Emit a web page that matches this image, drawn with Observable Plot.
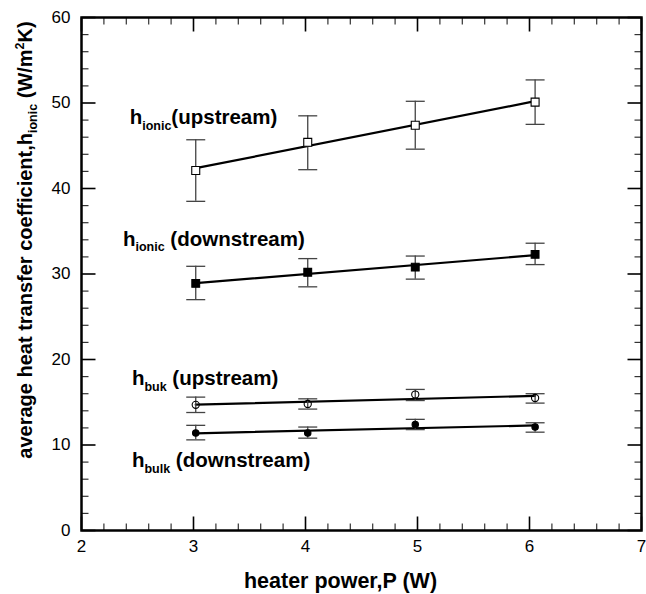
<!DOCTYPE html>
<html><head><meta charset="utf-8">
<script src="https://cdn.jsdelivr.net/npm/d3@7"></script>
<script src="https://cdn.jsdelivr.net/npm/@observablehq/plot@0.6"></script>
<style>
body{margin:0;background:#fff;}
#chart{width:646px;height:594px;}
text{white-space:pre;}
</style>
</head><body><div id="chart"></div>
<script>
// ---- data ----
const power = [3.02, 4.02, 4.98, 6.05];

const ionicUp     = [42.1, 45.4, 47.4, 50.1];
const ionicUpLo   = [38.5, 42.2, 44.6, 47.5];
const ionicUpHi   = [45.7, 48.5, 50.2, 52.7];

const ionicDown   = [28.9, 30.2, 30.8, 32.3];
const ionicDownLo = [27.0, 28.5, 29.4, 31.1];
const ionicDownHi = [30.9, 31.8, 32.1, 33.6];

const bulkUp      = [14.7, 14.8, 15.9, 15.5];
const bulkUpLo    = [13.8, 14.2, 15.2, 14.9];
const bulkUpHi    = [15.6, 15.4, 16.5, 16.0];

const bulkDown    = [11.4, 11.4, 12.4, 12.1];
const bulkDownLo  = [10.6, 10.8, 11.8, 11.5];
const bulkDownHi  = [12.3, 12.1, 13.0, 12.6];

const seriesKeys = ["ionicUp", "ionicDown", "bulkUp", "bulkDown"];
const labelMain  = ["h", "h", "h", "h"];
const labelSub   = ["ionic", "ionic", "buk", "bulk"];
const labelRest  = ["(upstream)", " (downstream)", " (upstream)", " (downstream)"];
const labelX     = [2.43, 2.37, 2.45, 2.45];
const labelY     = [47.5, 33.3, 17.0, 7.4];

const xTickLabels = [2, 3, 4, 5, 6, 7];
const yTickLabels = [0, 10, 20, 30, 40, 50, 60];
const xTitle = "heater power,P (W)";
const yTitleParts = [
  ["average heat transfer coefficient,h", "n"],
  ["ionic", "sub"],
  [" (W/m", "n"],
  ["2", "sup"],
  ["K)", "n"]
];

// ---- build table ----
const seriesY  = {ionicUp, ionicDown, bulkUp, bulkDown};
const seriesLo = {ionicUp: ionicUpLo, ionicDown: ionicDownLo, bulkUp: bulkUpLo, bulkDown: bulkDownLo};
const seriesHi = {ionicUp: ionicUpHi, ionicDown: ionicDownHi, bulkUp: bulkUpHi, bulkDown: bulkDownHi};
const rows = [];
seriesKeys.forEach(k => power.forEach((p, i) => rows.push({series: k, x: p, y: seriesY[k][i], lo: seriesLo[k][i], hi: seriesHi[k][i]})));
const labels = seriesKeys.map((k, i) => ({main: labelMain[i], sub: labelSub[i], rest: labelRest[i], x: labelX[i], y: labelY[i]}));
const yTitle = yTitleParts.map(p => p[0]).join("");

const xMinor = d3.ticks(2, 7, 25).filter(v => !xTickLabels.includes(v));
const yMinor = d3.ticks(0, 60, 30).filter(v => !yTickLabels.includes(v));

// ---- custom symbols (pixel-length strokes) ----
const len = size => Math.sqrt(size / Math.PI);
const tickUp    = {draw(c, s){ const l = len(s); c.moveTo(0, 0); c.lineTo(0, -l); }};
const tickDown  = {draw(c, s){ const l = len(s); c.moveTo(0, 0); c.lineTo(0, l); }};
const tickRight = {draw(c, s){ const l = len(s); c.moveTo(0, 0); c.lineTo(l, 0); }};
const tickLeft  = {draw(c, s){ const l = len(s); c.moveTo(0, 0); c.lineTo(-l, 0); }};
const capBar    = {draw(c, s){ const l = len(s); c.moveTo(-l, 0); c.lineTo(l, 0); }};

const markerStyle = {
  ionicUp:   {symbol: "square", fill: "white", r: 4.5},
  ionicDown: {symbol: "square", fill: "black", r: 4.4},
  bulkUp:    {symbol: "circle", fill: "none",  r: 3.6},
  bulkDown:  {symbol: "circle", fill: "black", r: 3.2}
};

const tickMarks = (vals, long) => {
  const r = long ? 14 : 7, sw = long ? 1.6 : 1.2, st = long ? "black" : "#333";
  return [
    Plot.dot(vals, {x: d => d, y: 0,  symbol: tickUp,   r, stroke: st, strokeWidth: sw, fill: "none"}),
    Plot.dot(vals, {x: d => d, y: 60, symbol: tickDown, r, stroke: st, strokeWidth: sw, fill: "none"})
  ];
};
const tickMarksY = (vals, long) => {
  const r = long ? 14 : 7, sw = long ? 1.6 : 1.2, st = long ? "black" : "#333";
  return [
    Plot.dot(vals, {y: d => d, x: 2, symbol: tickRight, r, stroke: st, strokeWidth: sw, fill: "none"}),
    Plot.dot(vals, {y: d => d, x: 7, symbol: tickLeft,  r, stroke: st, strokeWidth: sw, fill: "none"})
  ];
};

const chart = Plot.plot({
  width: 646, height: 594,
  marginLeft: 81, marginRight: 5, marginTop: 17, marginBottom: 64,
  style: {fontFamily: "'Liberation Sans', Arial, Helvetica, sans-serif", background: "white", color: "black", overflow: "visible"},
  x: {domain: [2, 7]},
  y: {domain: [0, 60]},
  marks: [
    Plot.axisX(xTickLabels, {tickSize: 0, tickPadding: 9, fontSize: 17, label: null}),
    Plot.axisY(yTickLabels, {tickSize: 0, tickPadding: 11, fontSize: 17, label: null}),
    ...tickMarks(xTickLabels, true), ...tickMarks(xMinor, false),
    ...tickMarksY(yTickLabels, true), ...tickMarksY(yMinor, false),
    Plot.linearRegressionY(rows, {x: "x", y: "y", z: "series", stroke: "black", strokeWidth: 2.2, ci: 0}),
    Plot.ruleX(rows, {x: "x", y1: "lo", y2: "hi", stroke: "#444", strokeWidth: 1.3}),
    Plot.dot(rows, {x: "x", y: "lo", symbol: capBar, r: 9.5, stroke: "#444", strokeWidth: 1.3, fill: "none"}),
    Plot.dot(rows, {x: "x", y: "hi", symbol: capBar, r: 9.5, stroke: "#444", strokeWidth: 1.3, fill: "none"}),
    ...seriesKeys.map(k => Plot.dot(rows.filter(d => d.series === k), {
      x: "x", y: "y", symbol: markerStyle[k].symbol, r: markerStyle[k].r,
      fill: markerStyle[k].fill, stroke: "black", strokeWidth: 1.1
    })),
    Plot.text(labels, {x: "x", y: "y", text: d => d.main + d.sub + d.rest, textAnchor: "start", lineAnchor: "bottom",
      fontSize: 20.5, fontWeight: "bold", fill: "black"}),
    Plot.text([xTitle], {frameAnchor: "bottom", dx: -21, dy: 57, lineAnchor: "bottom", fontSize: 21.5, fontWeight: "bold", fill: "black"}),
    Plot.text([yTitle], {frameAnchor: "left", textAnchor: "middle", rotate: -90, dx: -56, dy: -34, fontSize: 20, fontWeight: "bold", fill: "black"}),
    Plot.frame({stroke: "black", strokeWidth: 2.5})
  ]
});

// ---- rich text (subscripts / superscripts) ----
function richify(el, parts) {
  const t = d3.select(el);
  t.text("");
  let shift = 0;
  parts.forEach(([s, kind]) => {
    const target = kind === "sub" ? 5.5 : kind === "sup" ? -8 : 0;
    const ts = t.append("tspan").text(s).attr("dy", target - shift);
    if (kind !== "n") ts.attr("font-size", "12.5px");
    shift = target;
  });
}
const allText = [...chart.querySelectorAll("text")];
labels.forEach(l => {
  const plain = l.main + l.sub + l.rest;
  allText.filter(e => e.textContent === plain).forEach(e => richify(e, [[l.main, "n"], [l.sub, "sub"], [l.rest, "n"]]));
});
allText.filter(e => e.textContent === yTitle).forEach(e => richify(e, yTitleParts));

document.getElementById("chart").appendChild(chart);
</script>
</body></html>
